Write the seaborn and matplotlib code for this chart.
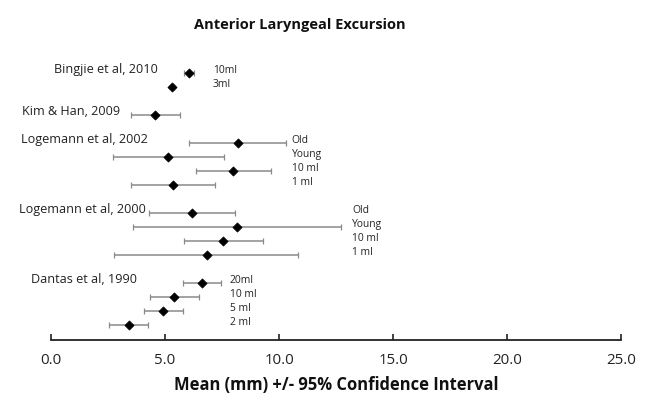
import matplotlib
matplotlib.use("Agg")
import matplotlib.pyplot as plt
import seaborn as sns
import pandas as pd

# values
studies = ["Bingjie et al, 2010", "Bingjie et al, 2010",
           "Kim & Han, 2009",
           "Logemann et al, 2002", "Logemann et al, 2002", "Logemann et al, 2002", "Logemann et al, 2002",
           "Logemann et al, 2000", "Logemann et al, 2000", "Logemann et al, 2000", "Logemann et al, 2000",
           "Dantas et al, 1990", "Dantas et al, 1990", "Dantas et al, 1990", "Dantas et al, 1990"]
conditions = ["10ml", "3ml",
              "",
              "Old", "Young", "10 ml", "1 ml",
              "Old", "Young", "10 ml", "1 ml",
              "20ml", "10 ml", "5 ml", "2 ml"]
means = [6.05, 5.32, 4.56, 8.19, 5.15, 8.00, 5.33, 6.20, 8.17, 7.56, 6.83, 6.61, 5.39, 4.93, 3.42]
ci_low = [5.85, 5.25, 3.51, 6.07, 2.70, 6.35, 3.51, 4.30, 3.61, 5.85, 2.78, 5.78, 4.34, 4.08, 2.56]
ci_high = [6.25, 5.40, 5.67, 10.29, 7.59, 9.65, 7.19, 8.08, 12.70, 9.28, 10.85, 7.44, 6.49, 5.78, 4.24]
x_ticks = [0, 5, 10, 15, 20, 25]

# row layout: one blank row between study groups
rows = []
r = 0
for i, s in enumerate(studies):
    if i > 0 and s != studies[i - 1]:
        r += 1
    rows.append(r)
    r += 1

df = pd.DataFrame({"study": studies, "condition": conditions, "mean": means,
                   "lo": ci_low, "hi": ci_high, "row": rows})

# label anchors (layout only): x of right edge for study names, x of left edge for condition labels
study_label_x = {"Bingjie et al, 2010": 4.69, "Kim & Han, 2009": 3.03,
                 "Logemann et al, 2002": 4.25, "Logemann et al, 2000": 4.15,
                 "Dantas et al, 1990": 3.76}
cond_label_x = {"Bingjie et al, 2010": 7.09, "Logemann et al, 2002": 10.56,
                "Logemann et al, 2000": 13.21, "Dantas et al, 1990": 7.85}

sns.set_style("white")
plt.rcParams["font.family"] = ["Open Sans", "DejaVu Sans"]

fig = plt.figure(figsize=(6.46, 4.0), dpi=100)
ax = fig.add_axes([51 / 646, 0.15, 570 / 646, 0.75])

ax.errorbar(df["mean"], df["row"],
            xerr=[df["mean"] - df["lo"], df["hi"] - df["mean"]],
            fmt="none", ecolor="#8a8a8a", elinewidth=1.1, capsize=2.5, capthick=0.9, zorder=2)
sns.scatterplot(data=df, x="mean", y="row", marker="D", color="black", s=22,
                edgecolor="black", linewidth=0.5, ax=ax, zorder=3, legend=False)

for s, g in df.groupby("study", sort=False):
    first = g["row"].min()
    ax.text(study_label_x[s], first - 0.25, s, ha="right", va="center", fontsize=9.1, color="#222222")
    if s in cond_label_x:
        for _, row in g.iterrows():
            ax.text(cond_label_x[s], row["row"] - 0.15, row["condition"], ha="left", va="center",
                    fontsize=7.4, color="#222222")

ax.set_xlim(0, 25)
ax.set_ylim(19.1, -2.33)
ax.set_xticks(x_ticks)
ax.set_xticklabels([f"{t:.1f}" for t in x_ticks], fontsize=10.8, color="#222222")
ax.set_yticks([])
ax.set_xlabel("Mean (mm) +/- 95% Confidence Interval", fontsize=11.9, fontweight="bold",
              color="#111111", labelpad=6)
ax.set_ylabel("")
for side in ["top", "right", "left"]:
    ax.spines[side].set_visible(False)
ax.spines["bottom"].set_color("#222222")
ax.spines["bottom"].set_linewidth(1.3)
ax.tick_params(axis="x", direction="in", length=4, width=1.2, color="#222222", pad=9, bottom=True)

fig.text(300 / 646, 1 - 25 / 400, "Anterior Laryngeal Excursion", ha="center", va="center",
         fontsize=10.5, fontweight="bold", color="#111111")

fig.savefig("out.png", dpi=100)
